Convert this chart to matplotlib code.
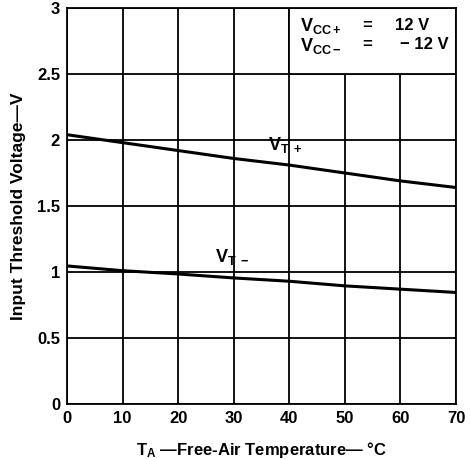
import matplotlib
matplotlib.use('Agg')
import matplotlib.pyplot as plt
from matplotlib.patches import Rectangle

plt.rcParams['font.family'] = ['Liberation Sans', 'DejaVu Sans']
plt.rcParams['font.weight'] = 'bold'
plt.rcParams['mathtext.fontset'] = 'custom'
plt.rcParams['mathtext.rm'] = 'Liberation Sans:bold'
plt.rcParams['mathtext.it'] = 'Liberation Sans:bold'
plt.rcParams['mathtext.bf'] = 'Liberation Sans:bold'

# temperature (degC) and threshold voltages (V)
temp = [0, 10, 20, 30, 40, 50, 60, 70]
vt_plus = [2.04, 1.98, 1.92, 1.86, 1.81, 1.75, 1.69, 1.64]
vt_minus = [1.046, 1.01, 0.985, 0.955, 0.93, 0.895, 0.87, 0.845]
xticks = [0, 10, 20, 30, 40, 50, 60, 70]
yticks = [0, 0.5, 1, 1.5, 2, 2.5, 3]
ytick_labels = ['0', '0.5', '1', '1.5', '2', '2.5', '3']

fig = plt.figure(figsize=(4.7, 4.59), dpi=100)
ax = fig.add_axes([0.1426, 0.1198, 0.8277, 0.8628])

ax.set_xlim(0, 70)
ax.set_ylim(0, 3)
ax.set_xticks(xticks)
ax.set_yticks(yticks)
ax.set_yticklabels(ytick_labels)
ax.tick_params(length=0, labelsize=12, pad=5)
for lab in ax.get_xticklabels() + ax.get_yticklabels():
    lab.set_fontweight('bold')

ax.grid(True, color='black', linewidth=1.3)
ax.set_axisbelow(True)
for s in ax.spines.values():
    s.set_linewidth(1.3)

# box for the supply conditions hides the grid behind it
ax.add_patch(Rectangle((40, 2.5), 30, 0.5, facecolor='white', edgecolor='black',
                       linewidth=1.3, zorder=1.5))

ax.plot(temp, vt_plus, color='black', linewidth=2.2, zorder=3)
ax.plot(temp, vt_minus, color='black', linewidth=2.2, zorder=3)

ax.text(39.2, 1.96, r'$\mathrm{V_{T\ +}}$', fontsize=13, ha='center', va='center')
ax.text(29.7, 1.11, r'$\mathrm{V_{T\ -}}$', fontsize=13, ha='center', va='center')

ax.text(41.9, 2.86, r'$\mathrm{V_{CC+}}$', fontsize=13, ha='left', va='center', zorder=4)
ax.text(54, 2.87, '=', fontsize=12, ha='center', va='center', zorder=4)
ax.text(65.2, 2.87, '12 V', fontsize=12, ha='right', va='center', zorder=4)
ax.text(41.9, 2.71, r'$\mathrm{V_{CC-}}$', fontsize=13, ha='left', va='center', zorder=4)
ax.text(54, 2.72, '=', fontsize=12, ha='center', va='center', zorder=4)
ax.text(68.6, 2.72, '\u2212 12 V', fontsize=12, ha='right', va='center', zorder=4)

ax.set_xlabel(r'$\mathrm{T_A}$' + ' \u2014Free-Air Temperature\u2014 \u00b0C',
              fontsize=12, fontweight='bold', labelpad=10)
ax.set_ylabel('Input Threshold Voltage\u2014V', fontsize=12.5, fontweight='bold',
              labelpad=8)

fig.savefig('out.png', dpi=100)
